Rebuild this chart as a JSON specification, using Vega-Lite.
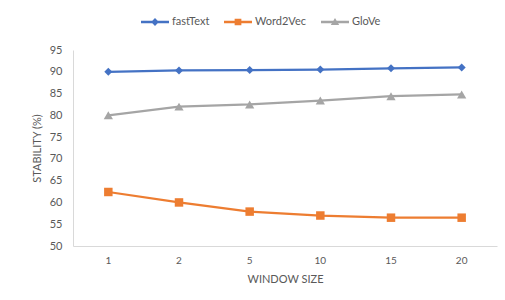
{
  "$schema": "https://vega.github.io/schema/vega-lite/v6.json",
  "autosize": {"type": "none"},
  "width": 424,
  "height": 196,
  "padding": {"left": 73, "top": 50, "right": 8, "bottom": 54},
  "background": "white",
  "config": {
    "font": "Lato",
    "view": {"stroke": null},
    "axis": {"labelColor": "#595959", "titleColor": "#595959", "labelFont": "Lato", "titleFont": "Lato", "titleFontWeight": "normal"}
  },
  "data": {
    "values": [
      {"w": "1", "series": "fastText", "v": 90.0},
      {"w": "2", "series": "fastText", "v": 90.3},
      {"w": "5", "series": "fastText", "v": 90.4},
      {"w": "10", "series": "fastText", "v": 90.5},
      {"w": "15", "series": "fastText", "v": 90.8},
      {"w": "20", "series": "fastText", "v": 91.0},
      {"w": "1", "series": "Word2Vec", "v": 62.4},
      {"w": "2", "series": "Word2Vec", "v": 60.0},
      {"w": "5", "series": "Word2Vec", "v": 57.9},
      {"w": "10", "series": "Word2Vec", "v": 57.0},
      {"w": "15", "series": "Word2Vec", "v": 56.5},
      {"w": "20", "series": "Word2Vec", "v": 56.5},
      {"w": "1", "series": "GloVe", "v": 80.0},
      {"w": "2", "series": "GloVe", "v": 82.0},
      {"w": "5", "series": "GloVe", "v": 82.5},
      {"w": "10", "series": "GloVe", "v": 83.4},
      {"w": "15", "series": "GloVe", "v": 84.4},
      {"w": "20", "series": "GloVe", "v": 84.8}
    ]
  },
  "encoding": {
    "x": {
      "field": "w", "type": "ordinal",
      "sort": ["1", "2", "5", "10", "15", "20"],
      "scale": {"type": "band", "paddingInner": 0, "paddingOuter": 0},
      "axis": {"title": "WINDOW SIZE", "labelAngle": 0, "ticks": false, "domainColor": "#D9D9D9", "labelFontSize": 10, "labelPadding": 9, "titleFontSize": 11, "titlePadding": 8}
    },
    "y": {
      "field": "v", "type": "quantitative",
      "scale": {"domain": [50, 95], "nice": false, "zero": false},
      "axis": {"title": "STABILITY (%)", "values": [50, 55, 60, 65, 70, 75, 80, 85, 90, 95], "grid": false, "ticks": false, "domainColor": "#D9D9D9", "labelFontSize": 11, "labelPadding": 11, "titleFontSize": 11, "titlePadding": 7}
    },
    "color": {
      "field": "series", "type": "nominal",
      "sort": ["fastText", "Word2Vec", "GloVe"],
      "scale": {"domain": ["fastText", "Word2Vec", "GloVe"], "range": ["#4472C4", "#ED7D31", "#A5A5A5"]},
      "legend": {
        "title": null,
        "orient": "none",
        "direction": "horizontal",
        "legendX": 68,
        "legendY": -42,
        "symbolSize": 784,
        "symbolStrokeWidth": 0,
        "symbolOpacity": 1,
        "labelFontSize": 11,
        "labelColor": "#595959",
        "labelOffset": 3,
        "columnPadding": 14,
        "encode": {
          "symbols": {
            "update": {
              "fill": {"scale": "color", "field": "value"},
              "strokeWidth": {"value": 0},
              "shape": {"signal": "datum.value === 'fastText' ? 'M-1,-0.09H1V0.09H-1Z M0,-0.28L0.28,0L0,0.28L-0.28,0Z' : (datum.value === 'Word2Vec' ? 'M-1,-0.09H1V0.09H-1Z M-0.24,-0.24H0.24V0.24H-0.24Z' : 'M-1,-0.09H1V0.09H-1Z M0,-0.28L0.3,0.22H-0.3Z')"}
            }
          }
        }
      }
    }
  },
  "layer": [
    {
      "mark": {"type": "line", "strokeWidth": 2.25}
    },
    {
      "transform": [{"filter": "datum.series === 'fastText'"}],
      "mark": {"type": "point", "filled": true, "opacity": 1, "size": 64, "shape": "diamond"}
    },
    {
      "transform": [{"filter": "datum.series === 'Word2Vec'"}],
      "mark": {"type": "point", "filled": true, "opacity": 1, "size": 72, "shape": "square"}
    },
    {
      "transform": [{"filter": "datum.series === 'GloVe'"}],
      "mark": {"type": "point", "filled": true, "opacity": 1, "size": 85, "shape": "triangle-up"}
    }
  ]
}
